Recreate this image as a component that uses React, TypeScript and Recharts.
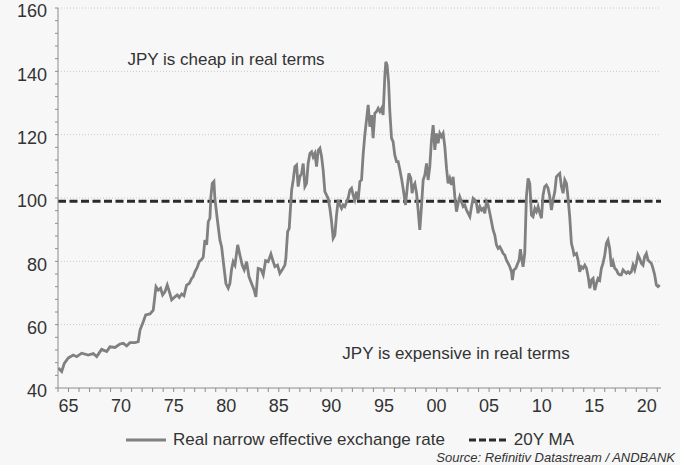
import { CartesianGrid, Line, LineChart, ReferenceLine, XAxis, YAxis } from 'recharts'

// decimal years and index values
const years = [
  1964.03, 1964.35, 1964.6, 1964.98, 1965.45, 1965.78, 1966.25, 1966.88, 1967.36, 1967.68,
  1968.15, 1968.63, 1968.94, 1969.42, 1969.89, 1970.21, 1970.53, 1970.84, 1971.32, 1971.63,
  1971.8, 1972.11, 1972.34, 1972.75, 1973.06, 1973.32, 1973.54, 1973.76, 1973.95, 1974.17,
  1974.39, 1974.65, 1974.81, 1975.12, 1975.34, 1975.53, 1975.76, 1975.98, 1976.23, 1976.48,
  1976.71, 1976.86, 1977.02, 1977.24, 1977.43, 1977.66, 1977.81, 1977.97, 1978.14, 1978.29,
  1978.45, 1978.54, 1978.67, 1978.83, 1978.92, 1979.14, 1979.4, 1979.56, 1979.78, 1979.97,
  1980.19, 1980.35, 1980.51, 1980.66, 1980.83, 1981.09, 1981.3, 1981.52, 1981.71, 1981.94,
  1982.16, 1982.41, 1982.66, 1982.82, 1983.04, 1983.3, 1983.52, 1983.74, 1983.99, 1984.25,
  1984.47, 1984.63, 1984.88, 1985.1, 1985.32, 1985.58, 1985.67, 1985.84, 1985.99, 1986.12,
  1986.22, 1986.37, 1986.53, 1986.69, 1986.84, 1987.0, 1987.17, 1987.32, 1987.48, 1987.64,
  1987.79, 1987.96, 1988.12, 1988.27, 1988.43, 1988.59, 1988.74, 1988.91, 1989.07, 1989.22,
  1989.38, 1989.54, 1989.69, 1989.86, 1990.02, 1990.17, 1990.33, 1990.49, 1990.65, 1990.81,
  1990.97, 1991.12, 1991.28, 1991.45, 1991.6, 1991.76, 1991.92, 1992.07, 1992.23, 1992.4,
  1992.55, 1992.71, 1992.87, 1993.02, 1993.18, 1993.34, 1993.5, 1993.66, 1993.82, 1993.97,
  1994.13, 1994.3, 1994.45, 1994.61, 1994.77, 1994.92, 1995.09, 1995.18, 1995.3, 1995.44,
  1995.56, 1995.72, 1995.87, 1996.03, 1996.2, 1996.35, 1996.51, 1996.67, 1996.82, 1997.05,
  1997.24, 1997.37, 1997.56, 1997.68, 1997.78, 1997.94, 1998.1, 1998.25, 1998.41, 1998.57,
  1998.73, 1998.89, 1999.05, 1999.2, 1999.36, 1999.52, 1999.68, 1999.84, 2000.0, 2000.15,
  2000.31, 2000.47, 2000.63, 2000.79, 2000.95, 2001.1, 2001.26, 2001.42, 2001.58, 2001.74,
  2001.9, 2002.05, 2002.21, 2002.38, 2002.53, 2002.69, 2002.85, 2003.0, 2003.17, 2003.33,
  2003.48, 2003.64, 2003.8, 2003.95, 2004.12, 2004.28, 2004.43, 2004.59, 2004.75, 2004.9,
  2005.07, 2005.23, 2005.38, 2005.54, 2005.7, 2005.86, 2006.02, 2006.18, 2006.33, 2006.49,
  2006.65, 2006.81, 2006.97, 2007.13, 2007.22, 2007.35, 2007.54, 2007.66, 2007.85, 2007.98,
  2008.08, 2008.23, 2008.39, 2008.55, 2008.71, 2008.87, 2009.03, 2009.18, 2009.35, 2009.5,
  2009.66, 2009.82, 2009.98, 2010.13, 2010.29, 2010.45, 2010.61, 2010.77, 2010.93, 2011.08,
  2011.25, 2011.4, 2011.56, 2011.72, 2011.88, 2012.04, 2012.2, 2012.36, 2012.51, 2012.67,
  2012.83, 2012.99, 2013.08, 2013.31, 2013.46, 2013.62, 2013.78, 2013.94, 2014.1, 2014.26,
  2014.42, 2014.58, 2014.74, 2014.89, 2015.05, 2015.21, 2015.36, 2015.52, 2015.68, 2015.84,
  2016.0, 2016.16, 2016.31, 2016.47, 2016.63, 2016.79, 2016.95, 2017.11, 2017.26, 2017.42,
  2017.58, 2017.74, 2017.9, 2018.06, 2018.21, 2018.37, 2018.53, 2018.69, 2018.85, 2019.01,
  2019.16, 2019.32, 2019.48, 2019.64, 2019.8, 2019.96, 2020.11, 2020.27, 2020.43, 2020.59,
  2020.75, 2020.91, 2021.07, 2021.23,
]

const realRate = [
  46.3, 45.2, 47.8, 49.5, 50.4, 49.9, 51.0, 50.4, 50.9, 49.9,
  52.2, 51.5, 53.0, 52.8, 53.9, 54.1, 53.3, 54.3, 54.3, 54.6,
  58.3, 60.9, 63.1, 63.4, 64.6, 72.0, 70.9, 71.5, 69.4, 70.4,
  72.5, 69.7, 67.8, 68.8, 69.4, 68.6, 69.7, 69.1, 72.5, 73.0,
  74.6, 75.2, 76.7, 78.1, 79.9, 80.6, 81.3, 86.7, 85.2, 92.5,
  93.6, 100.4, 104.6, 105.2, 99.9, 93.6, 86.7, 84.6, 78.3, 73.0,
  71.5, 73.0, 77.5, 79.9, 78.8, 85.2, 82.0, 78.8, 77.3, 79.9,
  75.2, 73.0, 70.9, 68.8, 77.8, 77.5, 75.7, 80.2, 79.9, 82.3,
  79.9, 78.3, 78.8, 76.2, 77.3, 78.8, 80.9, 89.4, 90.4, 97.3,
  102.5, 105.7, 109.9, 110.4, 103.6, 106.7, 107.8, 110.9, 103.6, 104.6,
  110.9, 114.1, 114.6, 113.0, 114.1, 109.9, 115.0, 115.7, 113.0, 108.8,
  102.0, 100.9, 99.9, 96.7, 92.5, 87.3, 88.3, 94.6, 99.4, 97.8,
  96.7, 97.8, 97.3, 98.8, 99.9, 102.5, 103.1, 100.9, 99.4, 102.0,
  99.4, 105.2, 105.7, 113.6, 119.9, 124.6, 129.4, 122.5, 126.2, 118.9,
  126.7, 127.3, 128.3, 127.3, 128.3, 126.2, 138.8, 143.0, 142.0, 136.7,
  127.3, 118.9, 117.8, 113.6, 111.5, 111.5, 109.0, 106.2, 103.1, 97.8,
  104.1, 107.8, 106.2, 101.5, 103.6, 104.6, 101.5, 96.2, 89.9, 97.3,
  105.7, 107.3, 110.9, 105.7, 109.9, 118.3, 123.0, 115.2, 120.4, 117.3,
  120.4, 119.4, 120.4, 116.2, 109.4, 104.6, 106.2, 104.1, 106.7, 100.4,
  95.7, 98.3, 100.4, 98.8, 97.3, 97.8, 96.2, 95.2, 94.1, 97.3,
  99.9, 99.4, 98.3, 95.2, 97.3, 96.2, 96.7, 95.2, 98.8, 97.8,
  95.2, 92.5, 89.9, 88.3, 85.2, 84.1, 84.6, 83.6, 82.5, 82.0,
  80.4, 79.4, 78.3, 76.7, 74.1, 77.3, 77.8, 78.8, 80.4, 83.8,
  81.5, 78.3, 82.5, 100.4, 106.2, 104.6, 94.6, 94.1, 96.7, 95.7,
  97.3, 95.2, 93.6, 100.9, 103.6, 104.1, 103.1, 100.4, 96.2, 99.4,
  102.0, 106.7, 107.3, 107.8, 103.6, 101.5, 105.7, 104.6, 100.0, 94.0,
  85.7, 83.6, 82.0, 82.5, 80.4, 76.7, 78.3, 77.8, 78.8, 77.8,
  75.2, 71.5, 74.1, 74.6, 70.9, 73.0, 74.6, 74.1, 77.8, 79.4,
  82.0, 85.7, 86.7, 84.1, 78.3, 79.9, 77.8, 77.3, 76.2, 75.7,
  75.7, 77.3, 76.7, 76.2, 76.7, 76.2, 76.7, 78.8, 77.3, 79.4,
  82.0, 80.9, 79.4, 78.8, 81.5, 82.5, 80.4, 79.9, 79.4, 77.8,
  75.7, 72.5, 72.0, 72.5,
]

const movingAvg20y = 99

const yLabels = [40, 60, 80, 100, 120, 140, 160]
const xLabels = [1965, 1970, 1975, 1980, 1985, 1990, 1995, 2000, 2005, 2010, 2015, 2020]

const yTicks = Array.from({ length: 31 }, (_, i) => 40 + i * 4)
const xTicks = Array.from({ length: 58 }, (_, i) => 1964 + i)

const data = years.map((year, i) => ({ year, rate: realRate[i] }))

const font = '"Liberation Sans", Arial, sans-serif'

export default function App() {
  return (
    <div
      style={{
        position: 'absolute',
        left: 0,
        top: 0,
        width: 680,
        height: 465,
        overflow: 'hidden',
        background: '#f7f7f7',
        fontFamily: font,
        color: '#333',
      }}
    >
      <LineChart width={680} height={428} data={data} margin={{ top: 8, right: 19, left: 0, bottom: 0 }}>
        <CartesianGrid
          vertical={false}
          horizontalValues={yLabels.slice(1)}
          stroke="#c8c8c8"
          strokeDasharray="1 2"
        />
        <XAxis
          dataKey="year"
          type="number"
          domain={[1964, 2021.35]}
          ticks={xTicks}
          interval={0}
          allowDataOverflow
          height={40}
          tickSize={4}
          tickMargin={7}
          stroke="#8c8c8c"
          tick={{ fontSize: 18, fill: '#333', fontFamily: font }}
          tickFormatter={(v: number) => (xLabels.includes(v) ? String(v % 100).padStart(2, '0') : '')}
        />
        <YAxis
          type="number"
          domain={[40, 160]}
          ticks={yTicks}
          interval={0}
          width={58}
          tickSize={3}
          tickMargin={8}
          stroke="#8c8c8c"
          tick={{ fontSize: 18, fill: '#333', fontFamily: font, dy: 3 }}
          tickFormatter={(v: number) => (yLabels.includes(v) ? String(v) : '')}
        />
        <ReferenceLine y={movingAvg20y} stroke="#2b2b2b" strokeWidth={3} strokeDasharray="8 3.5" />
        <Line
          type="linear"
          dataKey="rate"
          stroke="#808080"
          strokeWidth={2.8}
          dot={false}
          isAnimationActive={false}
        />
        <text x={226} y={65} textAnchor="middle" fontSize={17} fill="#333" fontFamily={font}>
          JPY is cheap in real terms
        </text>
        <text x={456} y={359} textAnchor="middle" fontSize={17} fill="#333" fontFamily={font}>
          JPY is expensive in real terms
        </text>
      </LineChart>
      <div
        style={{
          position: 'absolute',
          top: 430,
          left: 126,
          height: 20,
          display: 'flex',
          alignItems: 'center',
          fontSize: 17,
          whiteSpace: 'nowrap',
        }}
      >
        <svg width={40} height={16} style={{ marginRight: 7 }}>
          <line x1={0} y1={8} x2={40} y2={8} stroke="#808080" strokeWidth={3} />
        </svg>
        <span>Real narrow effective exchange rate</span>
        <svg width={40} height={16} style={{ marginLeft: 24, marginRight: 5 }}>
          <line x1={0} y1={8} x2={40} y2={8} stroke="#2b2b2b" strokeWidth={3} strokeDasharray="7 3" />
        </svg>
        <span>20Y MA</span>
      </div>
      <div
        style={{
          position: 'absolute',
          right: 5,
          top: 450,
          fontSize: 13,
          fontStyle: 'italic',
          color: '#333',
          whiteSpace: 'nowrap',
        }}
      >
        Source: Refinitiv Datastream / ANDBANK
      </div>
    </div>
  )
}
